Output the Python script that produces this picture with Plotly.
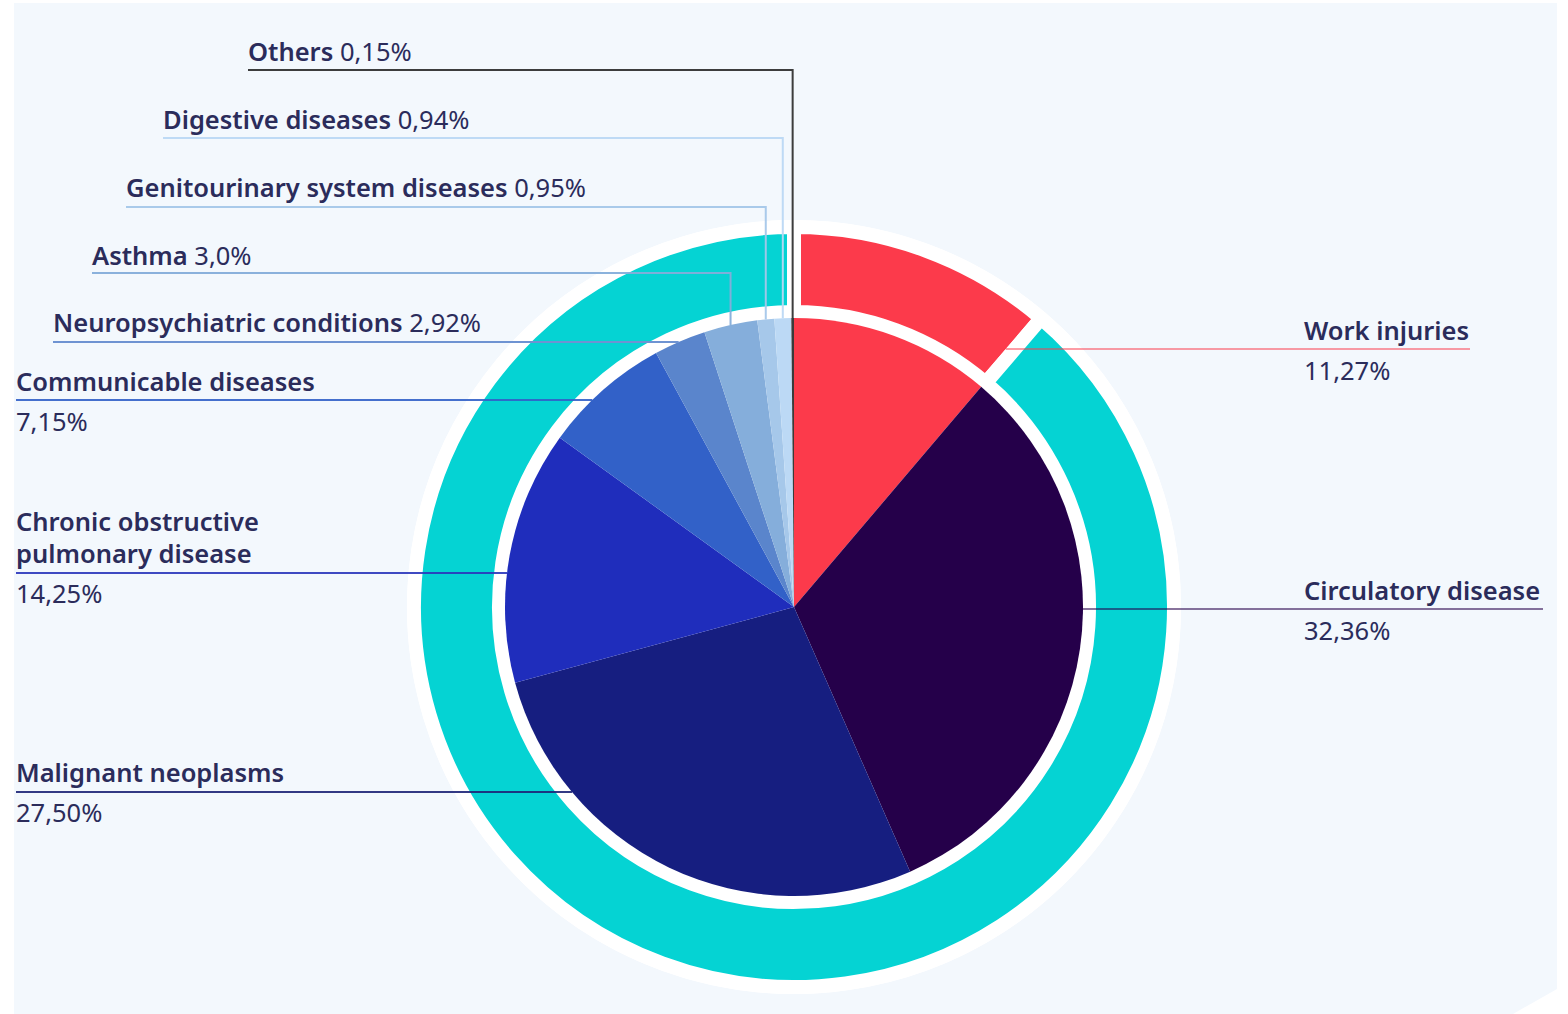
import math
import plotly.graph_objects as go

# ---------------- data ----------------
categories = [
    "Work injuries",
    "Circulatory disease",
    "Malignant neoplasms",
    "Chronic obstructive pulmonary disease",
    "Communicable diseases",
    "Neuropsychiatric conditions",
    "Asthma",
    "Genitourinary system diseases",
    "Digestive diseases",
    "Others",
]
shares = [11.27, 32.36, 27.50, 14.25, 7.15, 2.92, 3.0, 0.95, 0.94, 0.15]
share_text = ["11,27%", "32,36%", "27,50%", "14,25%", "7,15%", "2,92%", "3,0%", "0,95%", "0,94%", "0,15%"]
slice_colors = ["#FC3A4B", "#25004A", "#161E80", "#1F2DBC", "#3261C8",
                "#5A85CC", "#85AEDB", "#A6C8EA", "#BCD9F5", "#3a3a3a"]

ring_names = ["Work injuries", "Work-unrelated"]
ring_shares = [11.27, 88.73]
ring_colors = ["#FC3A4B", "#05D3D3"]

# ---------------- layout constants (pixels) ----------------
W, H = 1568, 1014
CX, CY = 794, 607
R_PIE = 289
R_RING = 380
R_HOLE = 295
R_HALO = 387
RING_GAP = 14

TEXT = "#2b2c5b"
FONT = "Noto Sans"
FS = 25.5
TX = -2  # annotation padding compensation


def X(px):
    return px / W


def Y(py):
    return 1 - py / H


def dom(r):
    return dict(x=[X(CX - r), X(CX + r)], y=[Y(CY + r), Y(CY - r)])


fig = go.Figure()
# white halo disc
fig.add_trace(go.Pie(values=[1], labels=[""], marker=dict(colors=["white"], line=dict(width=0)),
                     domain=dom(R_HALO), textinfo="none", hoverinfo="skip", sort=False,
                     showlegend=False))
# outer ring
fig.add_trace(go.Pie(labels=ring_names, values=ring_shares, hole=R_HOLE / R_RING,
                     marker=dict(colors=ring_colors, line=dict(color="white", width=RING_GAP)),
                     domain=dom(R_RING), direction="clockwise", rotation=0, sort=False,
                     textinfo="none", showlegend=False))
# inner pie
fig.add_trace(go.Pie(labels=categories, values=shares,
                     marker=dict(colors=slice_colors, line=dict(width=0)),
                     domain=dom(R_PIE), direction="clockwise", rotation=0, sort=False,
                     textinfo="none", showlegend=False))

# slice mid angles (clockwise from 12 o'clock)
total = sum(shares)
mid_angle = []
acc = 0.0
for v in shares:
    mid_angle.append((acc + v / 2) / total * 2 * math.pi)
    acc += v

shapes = []
annotations = []


def line(pts, color, width=2, opacity=1.0):
    path = "M " + " L ".join(f"{X(px):.6f},{Y(py):.6f}" for px, py in pts)
    shapes.append(dict(type="path", path=path, xref="paper", yref="paper",
                       line=dict(color=color, width=width), opacity=opacity, layer="above"))


def text(x, y, s, weight=400, anchor="left"):
    annotations.append(dict(x=X(x + TX), y=Y(y), xref="paper", yref="paper", text=s,
                            showarrow=False, xanchor=anchor, yanchor="middle",
                            font=dict(family=FONT, size=FS, color=TEXT, weight=weight)))


def bold(s):
    return f"<span style='font-weight:600'>{s}</span>"


def edge_x_left(y):
    return CX - math.sqrt(R_PIE ** 2 - (y - CY) ** 2)


def edge_x_right(y):
    return CX + math.sqrt(R_PIE ** 2 - (y - CY) ** 2)


line_colors = {
    9: "#333333", 8: "#BCD9F5", 7: "#A6C8EA", 6: "#85AEDB", 5: "#6E93D2",
    4: "#3261C8", 3: "#2B37BC", 2: "#1E2578",
}

# top labels with vertical leaders: (index, x0, text y, underline y)
for idx, x0, ty, uy in [(9, 248, 51, 70), (8, 163, 119, 138), (7, 126, 187, 207), (6, 92, 255, 273)]:
    a = mid_angle[idx]
    vx = CX + R_PIE * math.sin(a)
    vy = CY - R_PIE * math.cos(a)
    line([(x0, uy), (vx, uy), (vx, vy)], line_colors[idx], opacity=0.95)
    text(x0, ty, bold(categories[idx]) + " " + share_text[idx])

# neuropsychiatric: inline value, horizontal leader
x0, ty, uy = 53, 322, 342
line([(x0, uy), (edge_x_left(uy), uy)], line_colors[5])
text(x0, ty, bold(categories[5]) + " " + share_text[5])

# left labels with values below
for idx, x0, name_lines, uy, vy in [
    (4, 16, [("Communicable diseases", 381)], 400, 421),
    (3, 16, [("Chronic obstructive", 521), ("pulmonary disease", 553)], 573, 593),
    (2, 16, [("Malignant neoplasms", 772)], 792, 812),
]:
    line([(x0, uy), (edge_x_left(uy), uy)], line_colors[idx], opacity=0.9)
    for s, yy in name_lines:
        text(x0, yy, bold(s))
    text(x0, vy, share_text[idx])

# right labels
# Work injuries: leader from the red ring segment edge
uy = 349
theta = ring_shares[0] / sum(ring_shares) * 2 * math.pi
xs = CX + (CY - uy) * math.tan(theta) - (RING_GAP / 2) / math.cos(theta)
line([(xs, uy), (1470, uy)], "rgba(252,58,75,0.5)", width=2)
text(1304, 330, bold(categories[0]))
text(1304, 370, share_text[0])

uy = 609
line([(edge_x_right(uy), uy), (1543, uy)], "rgba(38,0,74,0.55)", width=2)
text(1304, 590, bold(categories[1]))
text(1304, 630, share_text[1])

# background panel
bg = [(14, 3), (1557, 3), (1557, 989), (1513, 1014), (14, 1014)]
shapes.insert(0, dict(type="path",
                      path="M " + " L ".join(f"{X(a):.6f},{Y(b):.6f}" for a, b in bg) + " Z",
                      xref="paper", yref="paper", fillcolor="#F3F8FD",
                      line=dict(width=0), layer="below"))

fig.update_layout(
    width=W, height=H,
    margin=dict(l=0, r=0, t=0, b=0),
    paper_bgcolor="white", plot_bgcolor="rgba(0,0,0,0)",
    shapes=shapes, annotations=annotations,
    font=dict(family=FONT, color=TEXT),
    showlegend=False,
)

fig.write_html("out.html", config={"displayModeBar": False},
               post_script="document.body.style.margin='0';document.body.style.overflow='hidden';")
